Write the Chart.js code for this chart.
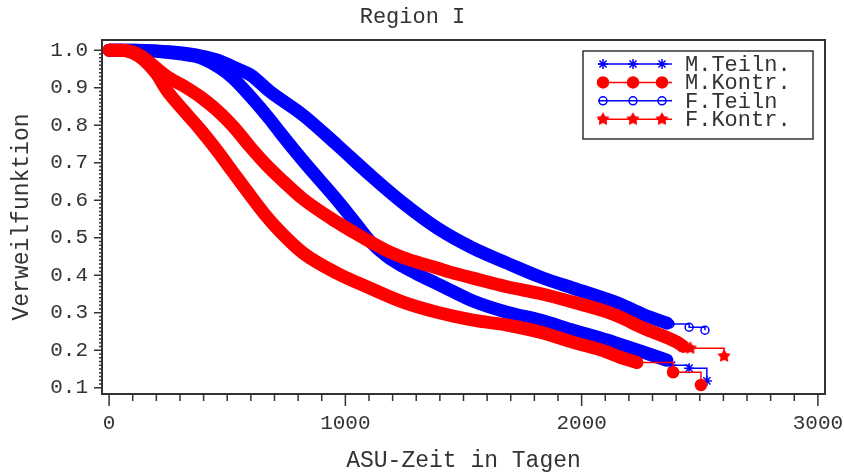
<!DOCTYPE html>
<html>
<head>
<meta charset="utf-8">
<script src="https://cdn.jsdelivr.net/npm/chart.js@4.4.1/dist/chart.umd.min.js"></script>
<style>
html, body { margin: 0; padding: 0; background: #fff; }
#wrap { width: 844px; height: 475px; }
</style>
</head>
<body>
<div id="wrap"><canvas id="myChart" width="844" height="475"></canvas></div>
<script>
// Region I - Verweilfunktion
var seriesNames = ['M.Teiln.', 'M.Kontr.', 'F.Teiln', 'F.Kontr.'];
var xTicks = [0, 1000, 2000, 3000];
var yTicks = [0.1, 0.2, 0.3, 0.4, 0.5, 0.6, 0.7, 0.8, 0.9, 1.0];

// M.Teiln. (lower blue)
var mTeilnT = [0, 100, 200, 300, 385, 470, 525, 600, 681, 724, 821, 965, 1033, 1105, 1176, 1244, 1316, 1388, 1443, 1540, 1684, 1824, 1964, 2107, 2163, 2260, 2361];
var mTeilnS = [1.0, 1.0, 0.997, 0.99, 0.98, 0.952, 0.925, 0.875, 0.815, 0.78, 0.705, 0.60, 0.547, 0.49, 0.45, 0.423, 0.399, 0.377, 0.36, 0.331, 0.301, 0.28, 0.253, 0.227, 0.215, 0.195, 0.173];
var mTeilnCensT = [2361, 2381, 2455, 2530];
var mTeilnCensS = [0.173, 0.16, 0.152, 0.118];

// M.Kontr. (lower red)
var mKontrT = [0, 50, 100, 150, 200, 244, 314, 385, 456, 526, 597, 667, 724, 821, 965, 1105, 1244, 1388, 1540, 1684, 1824, 1964, 2107, 2163, 2234];
var mKontrS = [1.0, 1.0, 0.993, 0.972, 0.937, 0.893, 0.84, 0.789, 0.733, 0.673, 0.613, 0.556, 0.516, 0.459, 0.405, 0.365, 0.328, 0.301, 0.28, 0.267, 0.248, 0.221, 0.195, 0.181, 0.167];
var mKontrCensT = [2234, 2387, 2505];
var mKontrCensS = [0.167, 0.141, 0.107];

// F.Teiln (upper blue)
var fTeilnT = [0, 100, 200, 300, 385, 470, 525, 600, 680, 820, 965, 1105, 1245, 1390, 1540, 1685, 1825, 1965, 2107, 2163, 2260, 2361];
var fTeilnS = [1.0, 1.0, 0.998, 0.993, 0.985, 0.971, 0.955, 0.933, 0.89, 0.827, 0.747, 0.667, 0.592, 0.525, 0.472, 0.432, 0.395, 0.365, 0.336, 0.323, 0.295, 0.272];
var fTeilnCensT = [2361, 2374, 2455, 2522];
var fTeilnCensS = [0.272, 0.27, 0.261, 0.253];

// F.Kontr. (upper red)
var fKontrT = [0, 50, 100, 150, 200, 244, 314, 385, 456, 526, 597, 667, 724, 821, 965, 1033, 1105, 1176, 1244, 1316, 1388, 1443, 1540, 1684, 1824, 1964, 2107, 2163, 2260, 2404, 2430];
var fKontrS = [1.0, 1.0, 0.995, 0.978, 0.952, 0.93, 0.905, 0.876, 0.84, 0.796, 0.742, 0.693, 0.658, 0.603, 0.541, 0.515, 0.489, 0.465, 0.447, 0.432, 0.419, 0.408, 0.392, 0.369, 0.351, 0.328, 0.302, 0.288, 0.259, 0.221, 0.21];
var fKontrCensT = [2430, 2460, 2603];
var fKontrCensS = [0.21, 0.205, 0.184];

var BLUE = '#0000ff';
var RED = '#ff0000';
var INK = '#333';
var MONO = '"Liberation Mono", "DejaVu Sans Mono", monospace';

function pts(t, s) {
    return t.map((v, i) => ({ x: v, y: s[i] }));
}

// filled 5 point star for F.Kontr.
function starImage(color, r) {
    var c = document.createElement('canvas');
    c.width = c.height = 2 * r + 2;
    var g = c.getContext('2d');
    g.fillStyle = color;
    g.beginPath();
    for (var i = 0; i < 10; i++) {
        var a = -Math.PI / 2 + i * Math.PI / 5;
        var rr = i % 2 ? r * 0.55 : r;
        g.lineTo(r + 1 + rr * Math.cos(a), r + 1 + rr * Math.sin(a));
    }
    g.closePath();
    g.fill();
    return c;
}
var redStar = starImage(RED, 7);

// marker look per series (same order as seriesNames)
var markers = [
    { color: BLUE, style: 'star', radius: 5, fill: BLUE },
    { color: RED, style: 'circle', radius: 5.5, fill: RED },
    { color: BLUE, style: 'circle', radius: 4, fill: 'rgba(255,255,255,0)' },
    { color: RED, style: redStar, radius: 7, fill: RED }
];

function band(data, color, order) {
    return {
        data: data, borderColor: color, borderWidth: 13, pointRadius: 0,
        borderCapStyle: 'round', borderJoinStyle: 'round',
        cubicInterpolationMode: 'monotone', order: order
    };
}
function tail(data, m, order) {
    return {
        data: data, borderColor: m.color, borderWidth: 1.5, stepped: true,
        pointStyle: m.style, pointRadius: m.radius, pointHoverRadius: m.radius,
        pointBorderColor: m.color, pointBackgroundColor: m.fill, pointBorderWidth: 1.5,
        order: order
    };
}

const framePlugin = {
    id: 'frame',
    afterDatasetsDraw(chart) {
        const ctx = chart.ctx, a = chart.chartArea, x = chart.scales.x, y = chart.scales.y;
        ctx.save();
        ctx.strokeStyle = INK;
        ctx.lineWidth = 2;
        ctx.strokeRect(a.left, a.top, a.right - a.left, a.bottom - a.top);
        ctx.lineWidth = 1.5;
        ctx.beginPath();
        for (let v = 0; v <= 3000; v += 100) {
            const px = x.getPixelForValue(v);
            const len = v % 1000 === 0 ? 12 : 7;
            ctx.moveTo(px, a.bottom);
            ctx.lineTo(px, a.bottom + len);
        }
        for (let k = 10; k <= 100; k++) {
            const py = y.getPixelForValue(k / 100);
            const len = k % 10 === 0 ? 8 : 3;
            ctx.moveTo(a.left, py);
            ctx.lineTo(a.left - len, py);
        }
        ctx.stroke();
        ctx.restore();
    },
    afterDraw(chart) {
        // legend box, top right inside the plot
        const ctx = chart.ctx;
        const bx = 583, by = 51, bw = 230, bh = 88;
        ctx.save();
        ctx.fillStyle = '#fff';
        ctx.fillRect(bx, by, bw, bh);
        ctx.strokeStyle = INK;
        ctx.lineWidth = 1.5;
        ctx.strokeRect(bx, by, bw, bh);
        ctx.font = '22px ' + MONO;
        ctx.textBaseline = 'middle';
        ctx.textAlign = 'left';
        seriesNames.forEach((name, i) => {
            const m = markers[i];
            const ry = 64 + i * 18.4;
            ctx.strokeStyle = m.color;
            ctx.lineWidth = 1.5;
            ctx.beginPath();
            ctx.moveTo(598, ry);
            ctx.lineTo(672, ry);
            ctx.stroke();
            [603, 633, 662].forEach(mx => {
                ctx.fillStyle = m.fill;
                ctx.strokeStyle = m.color;
                ctx.lineWidth = 1.5;
                Chart.helpers.drawPoint(ctx, { pointStyle: m.style, radius: m.radius, borderWidth: 1.5, rotation: 0 }, mx, ry);
            });
            ctx.fillStyle = INK;
            ctx.fillText(name, 685, ry + 1);
        });
        ctx.restore();
    }
};

document.addEventListener('DOMContentLoaded', function() {
    var ctx = document.getElementById('myChart').getContext('2d');
    var tickFont = { family: MONO, size: 21 };
    var titleFont = { family: MONO, size: 23, lineHeight: 1 };

    new Chart(ctx, {
        type: 'line',
        data: {
            datasets: [
                band(pts(mTeilnT, mTeilnS), BLUE, 8),
                band(pts(fTeilnT, fTeilnS), BLUE, 7),
                band(pts(mKontrT, mKontrS), RED, 6),
                band(pts(fKontrT, fKontrS), RED, 5),
                tail(pts(mTeilnCensT, mTeilnCensS), markers[0], 4),
                tail(pts(fTeilnCensT, fTeilnCensS), markers[2], 3),
                tail(pts(mKontrCensT, mKontrCensS), markers[1], 2),
                tail(pts(fKontrCensT, fKontrCensS), markers[3], 1)
            ]
        },
        options: {
            responsive: false,
            animation: false,
            devicePixelRatio: 1,
            layout: { padding: { left: 0, right: 19, top: 0, bottom: 0 } },
            plugins: {
                legend: { display: false },
                tooltip: { enabled: false },
                title: {
                    display: true,
                    text: 'Region I',
                    color: INK,
                    font: { family: MONO, size: 22, weight: 'normal', lineHeight: 1 },
                    padding: { top: 6, bottom: 12 }
                }
            },
            scales: {
                x: {
                    type: 'linear',
                    min: -30,
                    max: 3030,
                    afterBuildTicks: s => { s.ticks = xTicks.map(v => ({ value: v })); },
                    afterFit: s => { s.height = 81; s.paddingLeft = 0; s.paddingRight = 0; },
                    grid: { display: false, drawTicks: false },
                    border: { display: false },
                    ticks: { color: INK, font: tickFont, padding: 17, maxRotation: 0, autoSkip: false,
                        callback: v => String(v) },
                    title: { display: true, text: 'ASU-Zeit in Tagen', color: INK, font: titleFont,
                        padding: { top: 0, bottom: 3 } }
                },
                y: {
                    type: 'linear',
                    min: 0.083,
                    max: 1.027,
                    afterBuildTicks: s => { s.ticks = yTicks.map(v => ({ value: v })); },
                    afterFit: s => { s.width = 102; s.paddingTop = 0; s.paddingBottom = 0; },
                    grid: { display: false, drawTicks: false },
                    border: { display: false },
                    ticks: { color: INK, font: tickFont, padding: 14, autoSkip: false,
                        callback: v => v.toFixed(1) },
                    title: { display: true, text: 'Verweilfunktion', color: INK, font: titleFont,
                        padding: { top: 10, bottom: 0 } }
                }
            }
        },
        plugins: [framePlugin]
    });
});
</script>
</body>
</html>
